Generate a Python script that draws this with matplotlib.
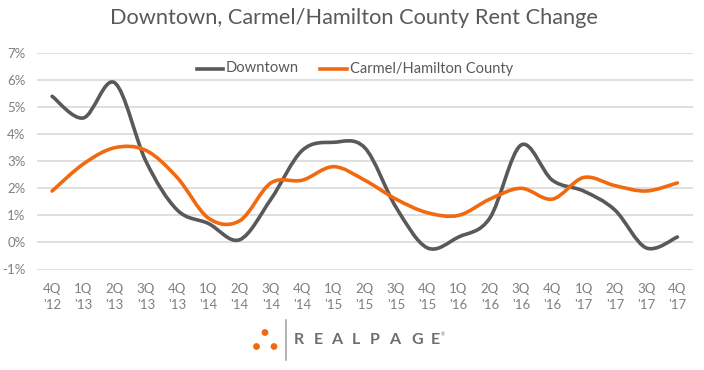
import numpy as np
import matplotlib
matplotlib.use("Agg")
import matplotlib.pyplot as plt
from matplotlib.path import Path
from matplotlib.patches import PathPatch, Circle
from matplotlib.lines import Line2D

plt.rcParams["font.family"] = ["Lato", "DejaVu Sans"]

W, H = 704, 370

quarters = ["4Q\n'12", "1Q\n'13", "2Q\n'13", "3Q\n'13", "4Q\n'13", "1Q\n'14", "2Q\n'14",
            "3Q\n'14", "4Q\n'14", "1Q\n'15", "2Q\n'15", "3Q\n'15", "4Q\n'15", "1Q\n'16",
            "2Q\n'16", "3Q\n'16", "4Q\n'16", "1Q\n'17", "2Q\n'17", "3Q\n'17", "4Q\n'17"]
downtown = [5.4, 4.6, 5.9, 3.0, 1.2, 0.7, 0.1, 1.6, 3.4, 3.7, 3.5, 1.3, -0.2, 0.2, 0.9,
            3.6, 2.3, 1.9, 1.2, -0.2, 0.2]
carmel = [1.9, 2.9, 3.5, 3.4, 2.4, 0.9, 0.8, 2.2, 2.3, 2.8, 2.3, 1.6, 1.1, 1.0, 1.6,
          2.0, 1.6, 2.4, 2.1, 1.9, 2.2]
y_ticks = [-1, 0, 1, 2, 3, 4, 5, 6, 7]

GREY = "#595959"
ORANGE = "#f26a0f"
TICK_COL = "#7f7f7f"
GRID_COL = "#d9d9d9"


def smooth_path(values):
    # same idea as Excel's smoothed line: bezier segments through each point
    x = np.arange(len(values), dtype=float)
    y = np.array(values, dtype=float)
    px = np.concatenate([[x[0]], x, [x[-1]]])
    py = np.concatenate([[y[0]], y, [y[-1]]])
    verts = [(x[0], y[0])]
    codes = [Path.MOVETO]
    for i in range(1, len(px) - 2):
        c1 = (px[i] + (px[i + 1] - px[i - 1]) / 6, py[i] + (py[i + 1] - py[i - 1]) / 6)
        c2 = (px[i + 1] - (px[i + 2] - px[i]) / 6, py[i + 1] - (py[i + 2] - py[i]) / 6)
        verts += [c1, c2, (px[i + 1], py[i + 1])]
        codes += [Path.CURVE4, Path.CURVE4, Path.CURVE4]
    return Path(verts, codes)


fig = plt.figure(figsize=(W / 100, H / 100), dpi=100)
ax = fig.add_axes([36.5 / W, 1 - 269.5 / H, (693 - 36.5) / W, (269.5 - 53) / H])

ax.set_xlim(-0.5, 20.5)
ax.set_ylim(-1, 7)
ax.set_yticks(y_ticks)
ax.set_yticklabels([f"{v}%" for v in y_ticks], fontsize=9.5, color=TICK_COL)
ax.set_xticks(range(len(quarters)))
ax.set_xticklabels(quarters, fontsize=9.5, color=TICK_COL, linespacing=1.35)
ax.tick_params(length=0)
ax.tick_params(axis="x", pad=10)
ax.tick_params(axis="y", pad=8)
ax.grid(axis="y", color=GRID_COL, lw=1.2)
ax.set_axisbelow(True)
for s in ax.spines.values():
    s.set_visible(False)

ax.add_patch(PathPatch(smooth_path(downtown), fc="none", ec=GREY, lw=2.6, capstyle="round"))
ax.add_patch(PathPatch(smooth_path(carmel), fc="none", ec=ORANGE, lw=2.6, capstyle="round"))

fig.text(353.5 / W, 1 - 18.5 / H, "Downtown, Carmel/Hamilton County Rent Change",
         fontsize=15.7, color=GREY, ha="center", va="center")

# legend placed by hand in figure pixels
fig.add_artist(Line2D([197 / W, 223 / W], [1 - 68.5 / H] * 2, color=GREY, lw=2.6))
fig.text(226 / W, 1 - 68.5 / H, "Downtown", fontsize=10.6, color=GREY, va="center")
fig.add_artist(Line2D([320 / W, 347 / W], [1 - 68.5 / H] * 2, color=ORANGE, lw=2.6))
fig.text(350 / W, 1 - 68.5 / H, "Carmel/Hamilton County", fontsize=10.5, color=GREY, va="center")

# RealPage logo
logo = fig.add_axes([0, 0, 1, 1], facecolor="none")
logo.set_xlim(0, W)
logo.set_ylim(H, 0)
logo.axis("off")
for cx, cy in [(265, 332.5), (256.5, 346.5), (274, 346.5)]:
    logo.add_patch(Circle((cx, cy), 3.4, color=ORANGE, lw=0))
logo.plot([286, 286], [320, 360], color="#a6a6a6", lw=1.2)
for ch, lx in zip("REALPAGE", [294, 314, 331, 352, 370, 389, 411, 431]):
    logo.text(lx, 340, ch, fontsize=11.5, fontweight="bold", color="#6e6e6e", va="center")
logo.text(441, 335, "\u00ae", fontsize=3.5, color="#6e6e6e", va="center")

fig.savefig("out.png", dpi=100)
